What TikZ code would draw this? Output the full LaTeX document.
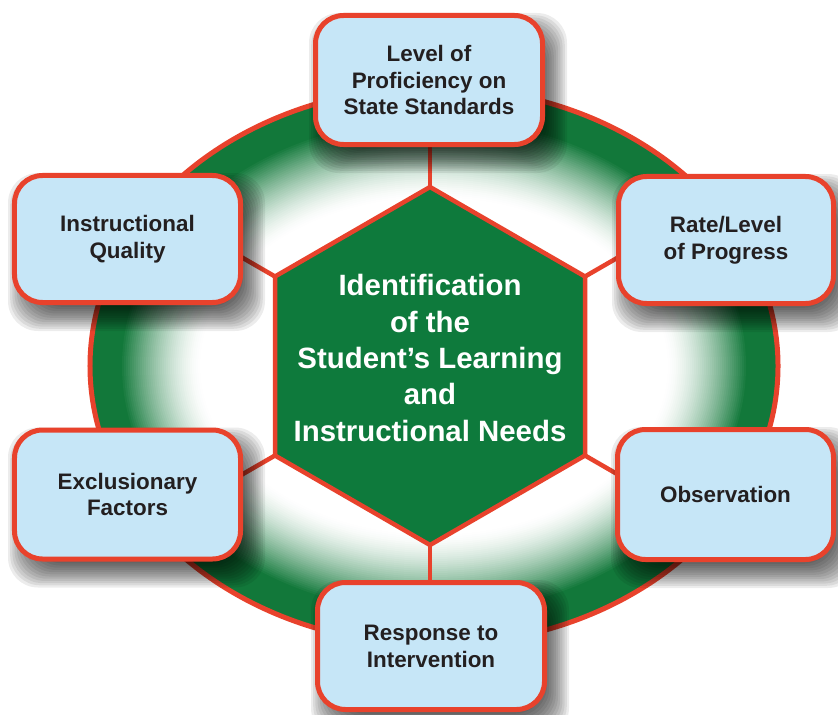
\documentclass[tikz,border=0pt]{standalone}
\usepackage{fontspec}
\setmainfont{Liberation Sans}
\usetikzlibrary{calc}
\definecolor{edgered}{RGB}{232,66,44}
\definecolor{boxblue}{RGB}{198,230,247}
\definecolor{hexgreen}{RGB}{14,122,60}
\definecolor{ringgreen}{RGB}{18,120,58}
\definecolor{txtdark}{RGB}{35,31,32}
\tikzset{
  infobox/.style={draw=edgered, line width=5bp, fill=boxblue, rounded corners=28bp,
    align=center, text=txtdark, font=\fontsize{22.5}{27}\selectfont\bfseries, inner sep=0pt},
  shadowlayer/.style={fill=black, fill opacity=0.075, rounded corners=30bp},
  conn/.style={draw=edgered, line width=4.5bp},
  hexshape/.style={draw=edgered, line width=4.5bp, fill=hexgreen, line join=miter},
  ringedge/.style={draw=edgered, line width=5bp},
  hextext/.style={align=center, text=white, font=\fontsize{29.5}{36.5}\selectfont\bfseries}
}
\begin{document}
\begin{tikzpicture}[x=1bp,y=-1bp]
\useasboundingbox (0,0) rectangle (838,715);
% ring: green band fading to white inside
\fill[ringgreen] (434,366) ellipse [x radius=344bp, y radius=279bp];
\foreach \i in {0,...,40}{
  \pgfmathsetmacro{\d}{30+\i*2.0}
  \pgfmathsetmacro{\c}{100*(1-\i/40)^1.5}
  \fill[ringgreen!\c!white] (434,366) ellipse [x radius={(344-\d)*1bp}, y radius={(279-\d)*1bp}];
}
\draw[ringedge] (434,366) ellipse [x radius=344bp, y radius=279bp];
% hexagon corners
\coordinate (hc) at (430,366);
\coordinate (vT) at (430,187);
\coordinate (vUR) at (585,276.5);
\coordinate (vLR) at (585,455.5);
\coordinate (vB) at (430,545);
\coordinate (vLL) at (275,455.5);
\coordinate (vUL) at (275,276.5);
% connector free ends (hidden under the boxes)
\coordinate (eT) at ($(hc)!1.35!(vT)$);
\coordinate (eUR) at ($(hc)!1.35!(vUR)$);
\coordinate (eLR) at ($(hc)!1.35!(vLR)$);
\coordinate (eB) at ($(hc)!1.35!(vB)$);
\coordinate (eLL) at ($(hc)!1.35!(vLL)$);
\coordinate (eUL) at ($(hc)!1.35!(vUL)$);
\foreach \v in {T,UR,LR,B,LL,UL}{\draw[conn] (v\v) -- (e\v);}
% hexagon
\path[hexshape] (vT) -- (vUR) -- (vLR) -- (vB) -- (vLL) -- (vUL) -- cycle;
\node[hextext] (center) at (430,358) {Identification\\of the\\Student’s Learning\\and\\Instructional Needs};
% soft shadows of the boxes
\foreach \x/\y/\w/\h in {429/80/232/134, 127.5/239/231/132, 726/240/220/132, 127.5/494.5/231/134, 725.5/494.5/221/135, 431/646/232/132}{
  \foreach \k in {0,...,11}{
    \pgfmathsetmacro{\e}{13-2.2*\k}
    \fill[shadowlayer] ({\x+9-\w/2-\e},{\y+13-\h/2-\e}) rectangle ({\x+9+\w/2+\e},{\y+13+\h/2+\e});
  }
}
% boxes
\node[infobox, minimum width=227bp, minimum height=129bp] (b1) at (429,80) {Level of\\Proficiency on\\State Standards};
\node[infobox, minimum width=226bp, minimum height=127bp] (b2) at (127.5,239) {Instructional\\Quality};
\node[infobox, minimum width=215bp, minimum height=127bp] (b3) at (726,240) {Rate/Level\\of Progress};
\node[infobox, minimum width=226bp, minimum height=129bp] (b4) at (127.5,494.5) {Exclusionary\\Factors};
\node[infobox, minimum width=216bp, minimum height=130bp] (b5) at (725.5,494.5) {Observation};
\node[infobox, minimum width=227bp, minimum height=127bp] (b6) at (431,646) {Response to\\Intervention};
\end{tikzpicture}
\end{document}
